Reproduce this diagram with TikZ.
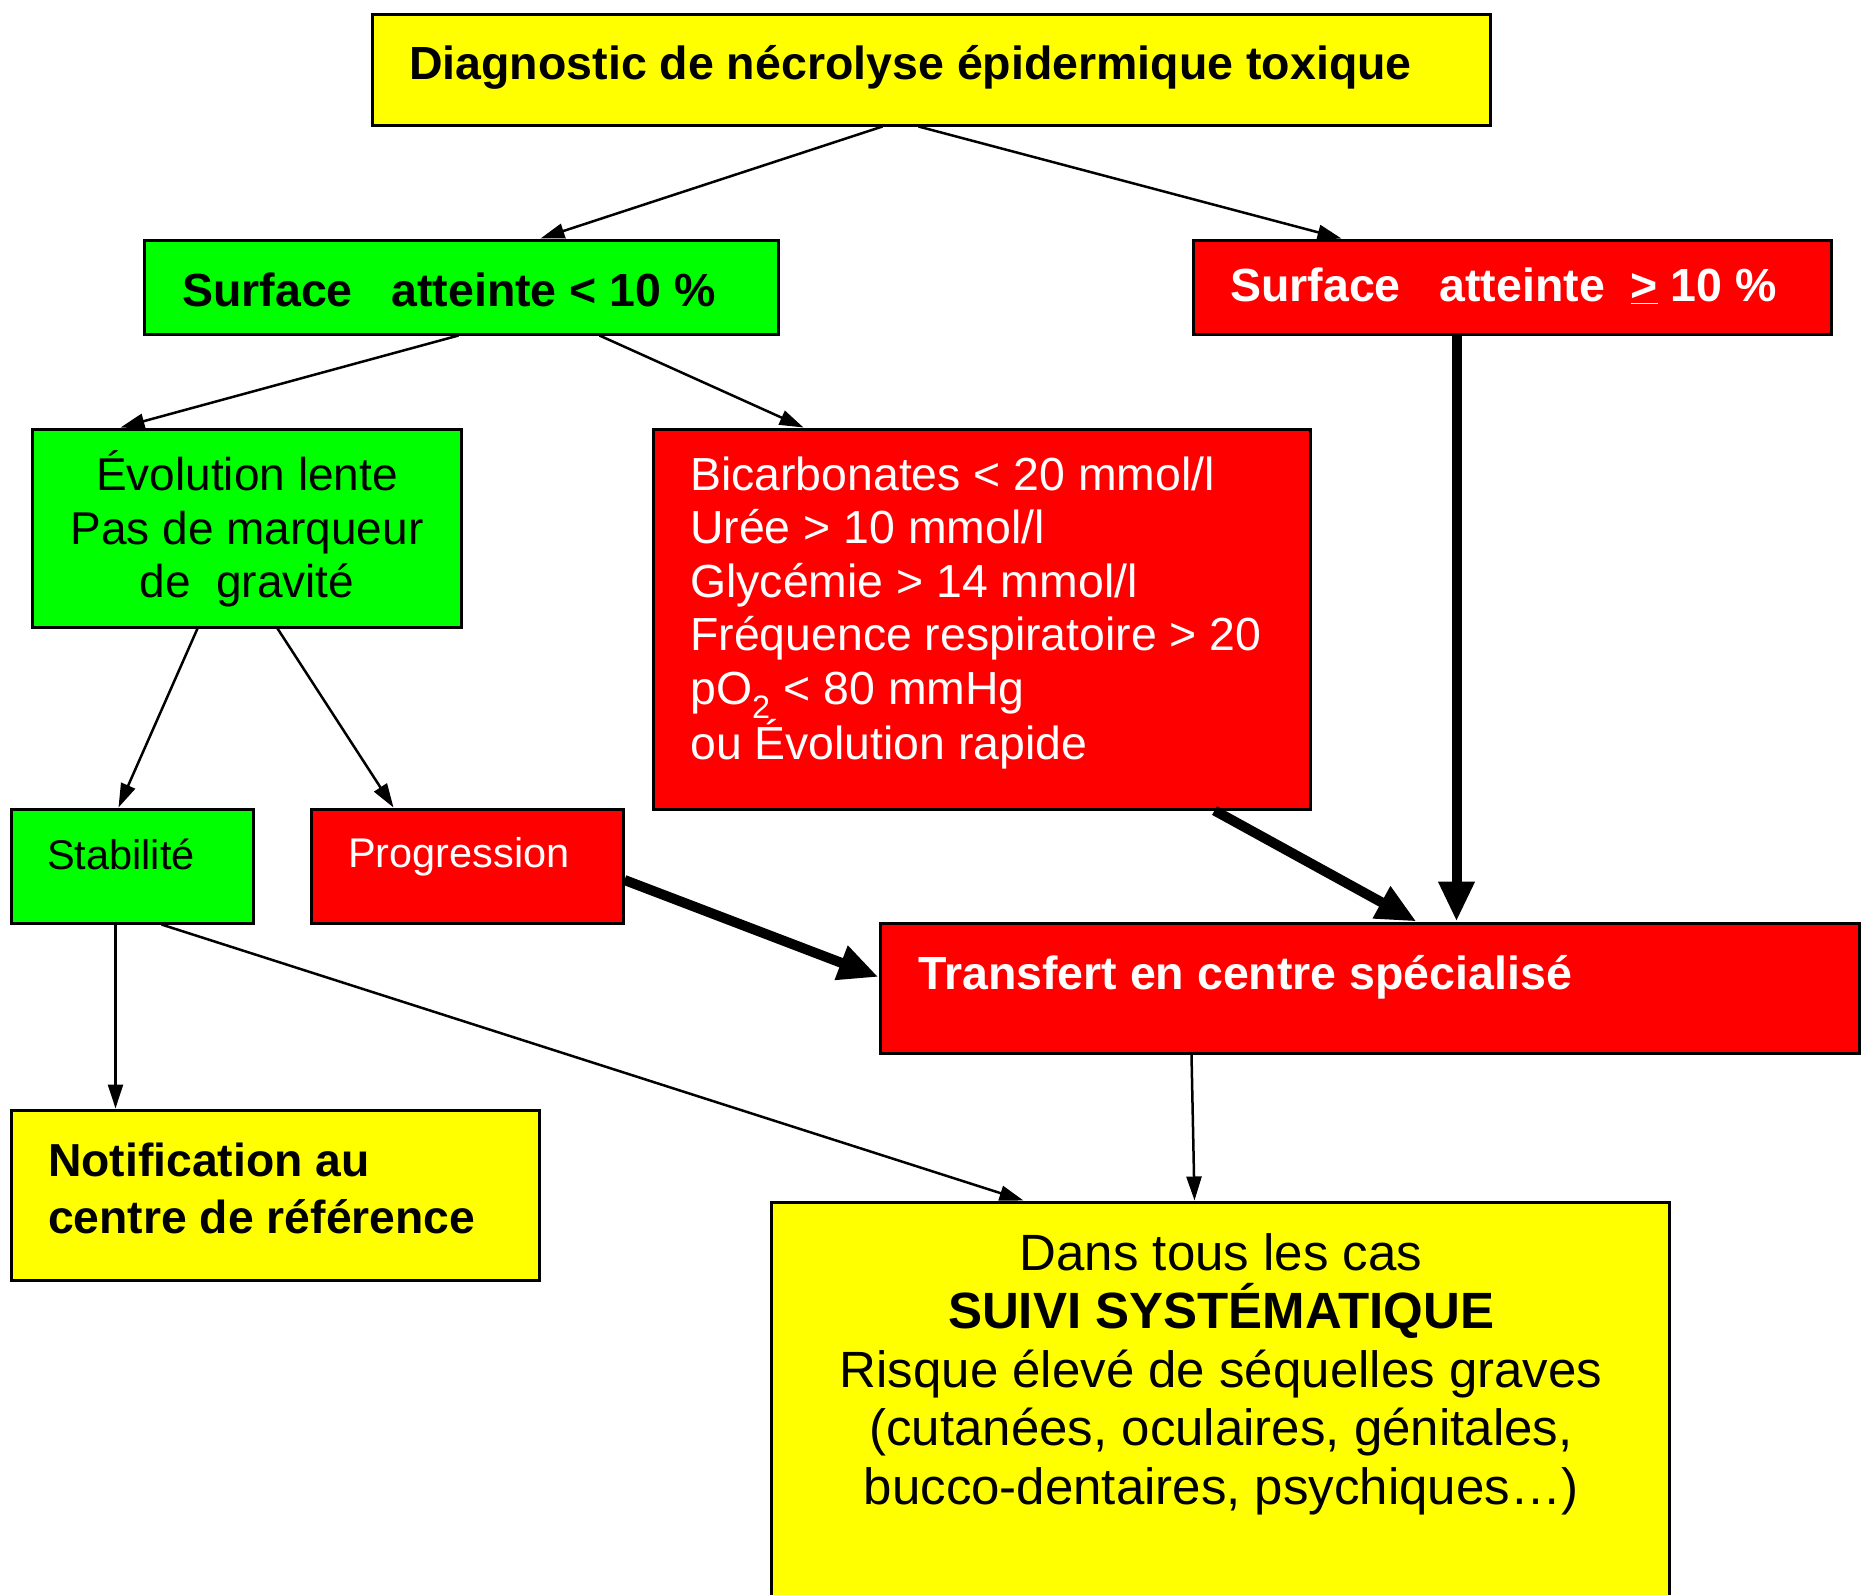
\documentclass[tikz,border=0pt]{standalone}
\usepackage{fontspec}
\setmainfont{Liberation Sans}
\usetikzlibrary{arrows.meta,calc}
\definecolor{yel}{RGB}{255,255,0}
\definecolor{grn}{RGB}{0,255,0}
\definecolor{rd}{RGB}{255,0,0}
\tikzset{
  box/.style={draw=black, line width=3pt, rectangle, inner sep=0pt},
  txt/.style={inner sep=0pt},
  thin/.style={line width=2.5pt, -{Triangle[length=24pt,width=15pt]}},
  thick/.style={line width=10pt, -{Triangle[length=40pt,width=34pt]}},
}
\begin{document}
\begin{tikzpicture}[x=1pt,y=-1pt]
\useasboundingbox (0,0) rectangle (1869,1595);
% boxes
\node[box, fill=yel, minimum width=1118pt, minimum height=110pt] (top) at (931,70) {};
\node[box, fill=grn, minimum width=634pt, minimum height=94pt] (s1) at (461,287) {};
\node[box, fill=rd, minimum width=638pt, minimum height=94pt] (s2) at (1512,287) {};
\node[box, fill=grn, minimum width=429pt, minimum height=198pt] (evol) at (246.5,528) {};
\node[box, fill=rd, minimum width=657pt, minimum height=380pt] (bic) at (981.5,619) {};
\node[box, fill=grn, minimum width=242pt, minimum height=114pt] (stab) at (132,866) {};
\node[box, fill=rd, minimum width=312pt, minimum height=114pt] (prog) at (467,866) {};
\node[box, fill=rd, minimum width=979pt, minimum height=130pt] (trans) at (1369.5,988) {};
\node[box, fill=yel, minimum width=528pt, minimum height=170pt] (notif) at (275,1195) {};
\node[box, fill=yel, minimum width=898pt, minimum height=438pt] (dans) at (1220,1421) {};
% texts
\node[txt, anchor=west, font=\fontsize{46.5}{54}\selectfont\bfseries] (ttop) at (409,67) {Diagnostic de nécrolyse épidermique toxique};
\node[txt, anchor=west, font=\fontsize{46.5}{54}\selectfont\bfseries] (ts1) at (182,290) {Surface\ \ \ atteinte < 10 \%};
\node[txt, anchor=west, text=white, font=\fontsize{46.5}{54}\selectfont\bfseries] (ts2) at (1230,286) {Surface\ \ \ atteinte\ \ \underline{>} 10 \%};
\node[txt, align=center, font=\fontsize{46}{53.6}\selectfont] (tevol) at (247,529) {Évolution lente\\Pas de marqueur\\de\ \ gravité};
\node[txt, anchor=west, align=left, text=white, font=\fontsize{46.4}{53.6}\selectfont] (tbic) at (690,613) {Bicarbonates < 20 mmol/l\\Urée > 10 mmol/l\\Glycémie > 14 mmol/l\\Fréquence respiratoire > 20\\pO\textsubscript{2} < 80 mmHg\\ou Évolution rapide};
\node[txt, anchor=west, font=\fontsize{41.5}{48}\selectfont] (tstab) at (47,854) {Stabilité};
\node[txt, anchor=west, text=white, font=\fontsize{41.5}{48}\selectfont] (tprog) at (348,857) {Progression};
\node[txt, anchor=west, text=white, font=\fontsize{46.5}{54}\selectfont\bfseries] (ttrans) at (918,977) {Transfert en centre spécialisé};
\node[txt, anchor=west, align=left, font=\fontsize{46.3}{57}\selectfont\bfseries] (tnotif) at (48,1188) {Notification au\\centre de référence};
\node[txt, align=center, font=\fontsize{51}{58.5}\selectfont] (tdans) at (1221,1374) {Dans tous les cas\\\textbf{SUIVI SYSTÉMATIQUE}\\Risque élevé de séquelles graves\\(cutanées, oculaires, génitales,\\bucco-dentaires, psychiques…)};
% connectors
\draw[thin] ($(top.south west)+(512,0)$) -- ($(s1.north west)+(398,0)$);
\draw[thin] ($(top.south west)+(548,0)$) -- ($(s2.north west)+(150,0)$);
\draw[thin] ($(s1.south west)+(316,0)$) -- ($(evol.north west)+(90,0)$);
\draw[thin] ($(s1.south west)+(457,0)$) -- ($(bic.north west)+(152,0)$);
\draw[thick] ($(s2.south west)+(265,0)$) -- ($(trans.north west)+(578,0)$);
\draw[thick] ($(bic.south west)+(563,0)$) -- ($(trans.north west)+(538,0)$);
\draw[thick] ($(prog.east)+(0,14)$) -- ($(trans.west)+(0,-11)$);
\draw[thin] ($(evol.south west)+(167,0)$) -- ($(stab.north west)+(109,0)$);
\draw[thin] ($(evol.south west)+(247,0)$) -- ($(prog.north west)+(84,0)$);
\draw[thin] ($(stab.south west)+(106,0)$) -- ($(notif.north west)+(106,0)$);
\draw[thin] ($(stab.south west)+(152,0)$) -- ($(dans.north west)+(254,0)$);
\draw[thin] ($(trans.south west)+(313,0)$) -- ($(dans.north west)+(425,0)$);
\end{tikzpicture}
\end{document}
